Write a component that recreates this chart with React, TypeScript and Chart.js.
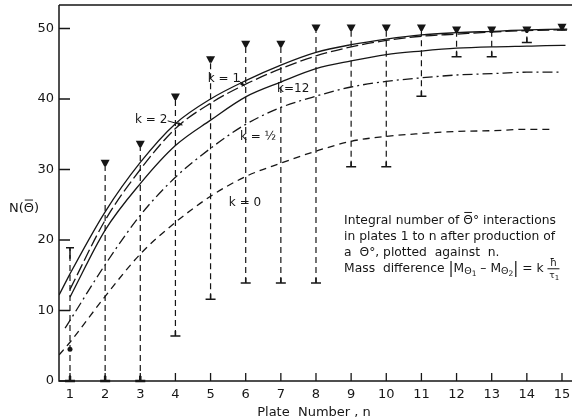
import React, { useEffect, useRef } from "react";
import { Chart, registerables } from "chart.js";

Chart.register(...registerables);

// ---------------- data ----------------
const plateNumbers = [1, 2, 3, 4, 5, 6, 7, 8, 9, 10, 11, 12, 13, 14, 15];
const yTickValues = [0, 10, 20, 30, 40, 50];
const upperLimits = [18.9, 31.3, 34.0, 40.7, 46.0, 48.2, 48.2, 50.5, 50.5, 50.5, 50.5, 50.2, 50.2, 50.2, 50.6];
const lowerLimits = [0, 0, 0, 6.4, 11.6, 13.9, 13.9, 13.9, 30.4, 30.4, 40.4, 46.0, 46.0, 48.0, 49.8];
const observedN = [1];
const observedValue = [4.5];

const k2N = [0.69, 1, 2, 3, 4, 5, 6, 7, 8, 9, 10, 11, 12, 13, 14, 15, 15.15];
const k2Value = [12.2, 15.2, 24.0, 31.0, 36.5, 40.0, 42.6, 44.8, 46.6, 47.7, 48.5, 49.1, 49.4, 49.6, 49.8, 49.9, 49.9];
const k1N = [1, 2, 3, 4, 5, 6, 7, 8, 9, 10, 11, 12, 13, 14, 15, 15.15];
const k1Value = [13.0, 22.8, 30.0, 35.8, 39.4, 42.1, 44.3, 46.1, 47.4, 48.3, 48.9, 49.2, 49.5, 49.7, 49.8, 49.8];
const k12N = [1, 2, 3, 4, 5, 6, 7, 8, 9, 10, 11, 12, 13, 14, 15, 15.1];
const k12Value = [11.9, 21.4, 28.0, 33.4, 37.0, 40.3, 42.4, 44.3, 45.4, 46.3, 46.8, 47.2, 47.4, 47.5, 47.6, 47.6];
const kHalfN = [0.86, 1, 2, 3, 4, 5, 6, 7, 8, 9, 10, 11, 12, 13, 14, 15];
const kHalfValue = [7.5, 8.6, 16.5, 23.5, 28.9, 33.0, 36.4, 38.8, 40.4, 41.7, 42.5, 43.0, 43.4, 43.6, 43.8, 43.8];
const k0N = [0.69, 1, 2, 3, 4, 5, 6, 7, 8, 9, 10, 11, 12, 13, 14, 14.66];
const k0Value = [3.7, 5.5, 12.0, 18.0, 22.5, 26.2, 29.0, 30.9, 32.6, 34.0, 34.7, 35.1, 35.4, 35.5, 35.7, 35.7];

const curveLabels = ["k = 2", "k = 1", "k=12", "k = \u00BD", "k = 0"];

// ---------------- presentation ----------------
const W = 572;
const H = 419;
const INK = "#161616";
const FONT = "DejaVu Sans";

const labelAnchors = [
  { n: 3.31, v: 37.0 },
  { n: 5.38, v: 42.8 },
  { n: 7.35, v: 41.4 },
  { n: 6.35, v: 34.6 },
  { n: 5.98, v: 25.2 },
];
const arrows = [
  { n1: 3.78, v1: 36.9, n2: 4.2, v2: 36.3 },
  { n1: 5.8, v1: 42.6, n2: 5.97, v2: 41.8 },
];
const noteAnchor = { n: 8.8, v: 22.3 };

type Run = { t: string; size?: number; dy?: number; over?: boolean };

function drawRuns(ctx: CanvasRenderingContext2D, x: number, y: number, runs: Run[], base: number) {
  let cx = x;
  for (const r of runs) {
    const sz = r.size || base;
    ctx.font = `${sz}px "${FONT}"`;
    ctx.fillText(r.t, cx, y + (r.dy || 0));
    const w = ctx.measureText(r.t).width;
    if (r.over) {
      ctx.beginPath();
      ctx.lineWidth = 1;
      ctx.moveTo(cx + 1, y - sz * 0.92);
      ctx.lineTo(cx + w - 1, y - sz * 0.92);
      ctx.stroke();
    }
    cx += w;
  }
  return cx;
}

const framePlugin = {
  id: "frame",
  beforeDatasetsDraw(chart: any) {
    const { ctx, chartArea: a, scales } = chart;
    ctx.save();
    ctx.strokeStyle = INK;
    ctx.lineWidth = 1.5;
    ctx.beginPath();
    ctx.moveTo(a.left, a.top);
    ctx.lineTo(a.right, a.top);
    ctx.moveTo(a.left, a.top);
    ctx.lineTo(a.left, a.bottom);
    ctx.lineTo(a.right, a.bottom);
    ctx.stroke();
    ctx.lineWidth = 1.3;
    ctx.beginPath();
    for (const v of yTickValues) {
      const y = scales.y.getPixelForValue(v);
      ctx.moveTo(a.left, y);
      ctx.lineTo(a.left + 11, y);
    }
    for (const n of plateNumbers) {
      const x = scales.x.getPixelForValue(n);
      ctx.moveTo(x, a.bottom);
      ctx.lineTo(x, a.bottom - 8);
    }
    ctx.stroke();
    ctx.restore();
  },
};

const errorPlugin = {
  id: "errors",
  beforeDatasetsDraw(chart: any) {
    const { ctx, scales } = chart;
    ctx.save();
    ctx.strokeStyle = INK;
    ctx.fillStyle = INK;
    plateNumbers.forEach((n, i) => {
      const x = scales.x.getPixelForValue(n);
      const yH = scales.y.getPixelForValue(upperLimits[i]);
      const yL = scales.y.getPixelForValue(lowerLimits[i]);
      ctx.setLineDash([6, 4]);
      ctx.lineWidth = 1.2;
      ctx.beginPath();
      ctx.moveTo(x, yL);
      ctx.lineTo(x, yH);
      ctx.stroke();
      ctx.setLineDash([]);
      if (i === 0) {
        ctx.lineWidth = 1.5;
        ctx.beginPath();
        ctx.moveTo(x - 4, yH);
        ctx.lineTo(x + 4, yH);
        ctx.moveTo(x, yH);
        ctx.lineTo(x, yH + 11);
        ctx.stroke();
      } else {
        ctx.beginPath();
        ctx.moveTo(x - 4.5, yH - 0.5);
        ctx.lineTo(x + 4.5, yH - 0.5);
        ctx.lineTo(x + 1, yH + 6);
        ctx.lineTo(x - 1, yH + 6);
        ctx.closePath();
        ctx.fill();
      }
      ctx.lineWidth = lowerLimits[i] === 0 ? 2.5 : 1.5;
      ctx.beginPath();
      ctx.moveTo(x - 5, yL);
      ctx.lineTo(x + 5, yL);
      ctx.moveTo(x, yL);
      ctx.lineTo(x, yL - 5);
      ctx.stroke();
    });
    observedN.forEach((n, i) => {
      const x = scales.x.getPixelForValue(n);
      const y = scales.y.getPixelForValue(observedValue[i]);
      ctx.beginPath();
      ctx.arc(x, y, 2.5, 0, Math.PI * 2);
      ctx.fill();
    });
    ctx.restore();
  },
};

const textPlugin = {
  id: "texts",
  afterDraw(chart: any) {
    const { ctx, scales, chartArea: a } = chart;
    const px = (n: number) => scales.x.getPixelForValue(n);
    const py = (v: number) => scales.y.getPixelForValue(v);
    ctx.save();
    ctx.fillStyle = INK;
    ctx.strokeStyle = INK;
    ctx.textAlign = "center";
    ctx.textBaseline = "middle";
    ctx.font = `12px "${FONT}"`;
    curveLabels.forEach((t, i) => {
      ctx.fillText(t, px(labelAnchors[i].n), py(labelAnchors[i].v));
    });
    ctx.lineWidth = 1;
    for (const ar of arrows) {
      const x1 = px(ar.n1), y1 = py(ar.v1), x2 = px(ar.n2), y2 = py(ar.v2);
      ctx.beginPath();
      ctx.moveTo(x1, y1);
      ctx.lineTo(x2, y2);
      ctx.stroke();
      const ang = Math.atan2(y2 - y1, x2 - x1);
      ctx.beginPath();
      ctx.moveTo(x2, y2);
      ctx.lineTo(x2 - 5 * Math.cos(ang - 0.4), y2 - 5 * Math.sin(ang - 0.4));
      ctx.lineTo(x2 - 5 * Math.cos(ang + 0.4), y2 - 5 * Math.sin(ang + 0.4));
      ctx.closePath();
      ctx.fill();
    }

    // axis titles
    ctx.font = `13px "${FONT}"`;
    ctx.textAlign = "center";
    ctx.textBaseline = "alphabetic";
    ctx.fillText("Plate  Number , n", 314, 416);
    ctx.textAlign = "left";
    drawRuns(ctx, 9, 212, [{ t: "N(" }, { t: "\u0398", over: true }, { t: ")" }], 13);

    // note
    const nx = px(noteAnchor.n);
    const ny = py(noteAnchor.v);
    const fs = 12.3;
    drawRuns(ctx, nx, ny, [{ t: "Integral number of " }, { t: "\u0398", over: true }, { t: "\u00B0 interactions" }], fs);
    drawRuns(ctx, nx, ny + 16, [{ t: "in plates 1 to n after production of" }], fs);
    drawRuns(ctx, nx, ny + 32, [{ t: "a  \u0398\u00B0, plotted  against  n." }], fs);
    const endX = drawRuns(
      ctx,
      nx,
      ny + 48,
      [
        { t: "Mass  difference " },
        { t: "|", size: 15, dy: 1 },
        { t: "M" },
        { t: "\u0398", size: 9.5, dy: 2 },
        { t: "1", size: 7.5, dy: 4 },
        { t: " \u2013 M" },
        { t: "\u0398", size: 9.5, dy: 2 },
        { t: "2", size: 7.5, dy: 4 },
        { t: "|", size: 15, dy: 1 },
        { t: " = k " },
      ],
      fs
    );
    const fx = endX + 6;
    const fy = ny + 44;
    ctx.textAlign = "center";
    ctx.font = `10px "${FONT}"`;
    ctx.fillText("\u0127", fx, fy - 2);
    ctx.beginPath();
    ctx.lineWidth = 1;
    ctx.moveTo(fx - 6, fy + 1);
    ctx.lineTo(fx + 6, fy + 1);
    ctx.stroke();
    ctx.font = `9px "${FONT}"`;
    ctx.fillText("\u03C4", fx - 1.5, fy + 10);
    ctx.font = `7px "${FONT}"`;
    ctx.fillText("1", fx + 3.5, fy + 12);
    ctx.restore();
  },
};

function series(label: string, xs: number[], ys: number[], dash: number[]) {
  return {
    label,
    data: xs.map((x, i) => ({ x, y: ys[i] })),
    showLine: true,
    borderColor: INK,
    borderWidth: 1.3,
    borderDash: dash,
    pointRadius: 0,
    fill: false,
    cubicInterpolationMode: "monotone" as const,
  };
}

export default function App() {
  const ref = useRef<HTMLCanvasElement>(null);
  useEffect(() => {
    const canvas = ref.current!;
    const chart = new Chart(canvas, {
      type: "scatter",
      data: {
        datasets: [
          series("k = 2", k2N, k2Value, []),
          series("k = 1", k1N, k1Value, [12, 4]),
          series("k = 12", k12N, k12Value, []),
          series("k = 1/2", kHalfN, kHalfValue, [10, 4, 2, 4]),
          series("k = 0", k0N, k0Value, [7, 5]),
        ] as any,
      },
      options: {
        responsive: false,
        animation: false,
        devicePixelRatio: 1,
        layout: { padding: { top: 5, right: 0, left: 0, bottom: 0 } },
        plugins: { legend: { display: false }, tooltip: { enabled: false } },
        scales: {
          x: {
            type: "linear",
            min: 0.687,
            max: 15.285,
            afterBuildTicks: (s: any) => {
              s.ticks = plateNumbers.map((v) => ({ value: v }));
            },
            afterFit: (s: any) => {
              s.height = 38;
              s.paddingLeft = 0;
              s.paddingRight = 0;
            },
            grid: { display: false, drawTicks: false },
            border: { display: false },
            ticks: {
              autoSkip: false,
              maxRotation: 0,
              padding: 6,
              color: INK,
              font: { family: FONT, size: 13 },
            },
          },
          y: {
            type: "linear",
            min: 0,
            max: 53.33,
            afterBuildTicks: (s: any) => {
              s.ticks = yTickValues.map((v) => ({ value: v }));
            },
            afterFit: (s: any) => {
              s.width = 59;
              s.paddingTop = 0;
              s.paddingBottom = 0;
            },
            grid: { display: false, drawTicks: false },
            border: { display: false },
            ticks: {
              padding: 5,
              color: INK,
              font: { family: FONT, size: 13 },
            },
          },
        },
      } as any,
      plugins: [framePlugin, errorPlugin, textPlugin],
    });
    return () => chart.destroy();
  }, []);
  return (
    <div style={{ position: "fixed", left: 0, top: 0, width: W, height: H, background: "#fff" }}>
      <canvas ref={ref} width={W} height={H} style={{ width: W, height: H, display: "block" }} />
    </div>
  );
}
